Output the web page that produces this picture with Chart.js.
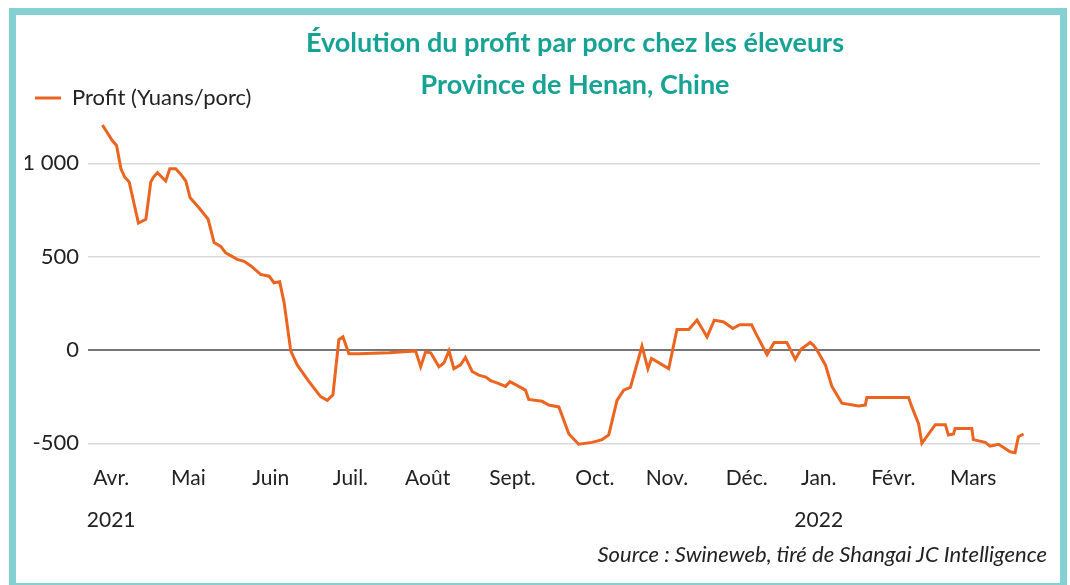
<!DOCTYPE html>
<html lang="fr">
<head>
  <meta charset="UTF-8">
  <title>Évolution du profit par porc chez les éleveurs</title>
  <script src="https://cdn.jsdelivr.net/npm/chart.js"></script>
  <style>
    body { margin: 0; background: #fff; font-family: "Lato", sans-serif; }
    .page { position: relative; width: 1070px; height: 585px; overflow: hidden; }
    .cadre {
      position: absolute; left: 9px; top: 8px; width: 1058px; height: 582px;
      box-sizing: border-box; border: 7px solid #84d0d3;
    }
    canvas { position: absolute; left: 0; top: 0; }
    .titre {
      position: absolute; left: 225px; width: 700px; text-align: center;
      color: #16a394; font-weight: bold; font-size: 27px; line-height: 30px;
    }
    .source {
      position: absolute; right: 23px; top: 542px; line-height: 24px;
      font-style: italic; font-size: 22px; color: #222;
    }
  </style>
</head>
<body>
<div class="page">
  <div class="cadre"></div>
  <canvas id="grafico" width="1070" height="585"></canvas>
  <div class="titre" style="top:27px">Évolution du profit par porc chez les éleveurs</div>
  <div class="titre" style="top:69px">Province de Henan, Chine</div>
  <div class="source">Source : Swineweb, tiré de Shangai JC Intelligence</div>
</div>

<script>
  // jours depuis le 1er avril 2021
  const jours = [
    -3.4, 0.5, 2.1, 3.8, 5.3, 7.0, 10.6, 13.5, 15.4, 16.4, 18.0, 21.2, 22.8, 25.1, 27.1, 29.0,
    30.7, 34.2, 37.7, 40.0, 42.6, 44.5, 49.0, 51.7, 54.3, 58.1, 61.4, 63.3, 65.5, 67.2, 69.8,
    72.3, 76.9, 81.4, 84.0, 86.2, 88.5, 90.1, 92.4, 96.3, 108, 118.3, 120.3, 122.2, 124.2,
    127.4, 129.3, 131.3, 133.2, 135.8, 137.7, 140.3, 142.9, 145.6, 147.5, 150.7, 153.3, 155.0,
    158.4, 161.0, 162.3, 167.5, 170.1, 174.0, 177.9, 181.7, 186.9, 190.8, 193.4, 196.6, 199.2,
    201.8, 206.3, 208.6, 210.0, 216.7, 219.9, 224.5, 227.7, 231.6, 234.4, 238.1, 241.6, 244.3,
    248.9, 250.5, 254.9, 257.7, 262.6, 265.9, 268.2, 271.7, 273.0, 274.3, 277.6, 280.1, 284.0,
    290.5, 293.1, 293.7, 309.9, 311.2, 313.8, 315.1, 320.3, 324.2, 325.4, 327.4, 328.0, 334.5,
    335.1, 339.7, 341.6, 344.9, 349.4, 351.3, 352.6, 354.6
  ];

  // profit en yuans par porc
  const profit = [
    1205, 1120, 1095, 970, 925, 900, 680, 700, 900, 925, 950, 905, 970, 970, 940, 905,
    815, 760, 700, 575, 555, 520, 485, 475, 450, 405, 395, 360, 365, 255, -5,
    -80, -170, -250, -270, -240, 55, 70, -20, -20, -15, -5, -90, -10, -15,
    -90, -70, -5, -100, -80, -40, -115, -135, -145, -165, -180, -195, -170,
    -195, -215, -265, -275, -295, -305, -450, -505, -495, -480, -455, -270, -215,
    -200, 20, -100, -45, -100, 110, 110, 160, 70, 160, 150, 115, 135,
    135, 90, -25, 40, 40, -50, 5, 40, 25, 0, -80, -195, -285,
    -300, -295, -255, -255, -305, -395, -500, -400, -400, -455, -450, -420, -420,
    -480, -495, -515, -505, -545, -550, -465, -450
  ];

  const moisTicks = [0, 30, 62, 93, 123, 156, 188, 216, 247, 275, 304, 335];
  const moisLabels = ['Avr.', 'Mai', 'Juin', 'Juil.', 'Août', 'Sept.', 'Oct.', 'Nov.', 'Déc.', 'Jan.', 'Févr.', 'Mars'];
  const anneeLabels = ['2021', '', '', '', '', '', '', '', '', '2022', '', ''];
  const yTicks = [-500, 0, 500, 1000];

  const couleurTexte = '#222';

  const formatMilliers = (v) => String(v).replace(/\B(?=(\d{3})+(?!\d))/g, ' ');

  const ctx = document.getElementById('grafico').getContext('2d');
  new Chart(ctx, {
    type: 'line',
    data: {
      datasets: [{
        label: 'Profit (Yuans/porc)',
        data: jours.map((j, i) => ({ x: j, y: profit[i] })),
        borderColor: '#eb6420',
        backgroundColor: '#eb6420',
        borderWidth: 3,
        pointRadius: 0,
        tension: 0,
        fill: false
      }]
    },
    options: {
      responsive: false,
      animation: false,
      layout: { padding: { left: 25, right: 30, top: 77, bottom: 55 } },
      plugins: {
        title: { display: false },
        tooltip: { enabled: false },
        legend: {
          position: 'top',
          align: 'start',
          labels: {
            usePointStyle: true,
            pointStyle: 'line',
            pointStyleWidth: 26,
            padding: 10,
            color: couleurTexte,
            font: { family: 'Lato', size: 22 }
          }
        }
      },
      scales: {
        x: {
          type: 'linear',
          min: -9,
          max: 361,
          afterBuildTicks: (scale) => { scale.ticks = moisTicks.map(v => ({ value: v })); },
          afterFit: (scale) => { scale.height = 68; },
          grid: { display: false, drawTicks: false },
          border: { display: false },
          ticks: {
            autoSkip: false,
            maxRotation: 0,
            padding: 6,
            color: couleurTexte,
            font: { family: 'Lato', size: 21, lineHeight: 1.0 },
            callback: (value, index) => anneeLabels[index]
              ? [moisLabels[index], '', anneeLabels[index]]
              : moisLabels[index]
          }
        },
        y: {
          min: -600,
          max: 1237,
          afterBuildTicks: (scale) => { scale.ticks = yTicks.map(v => ({ value: v })); },
          afterFit: (scale) => { scale.width = 63; },
          border: { display: false },
          grid: {
            drawTicks: false,
            color: (c) => c.tick && c.tick.value === 0 ? '#767676' : '#d9d9d9',
            lineWidth: (c) => c.tick && c.tick.value === 0 ? 2 : 1.5
          },
          ticks: {
            padding: 9,
            color: couleurTexte,
            font: { family: 'Lato', size: 22 },
            callback: (value) => formatMilliers(value)
          }
        }
      }
    }
  });
</script>
</body>
</html>
